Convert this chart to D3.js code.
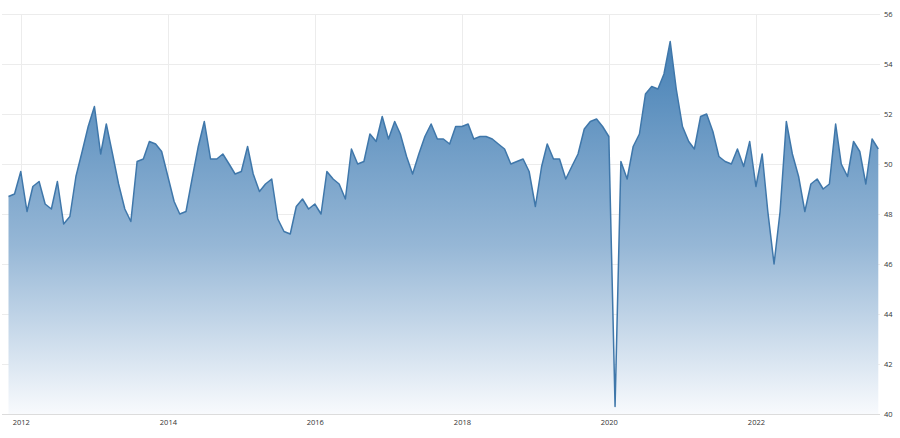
<!DOCTYPE html>
<html>
<head>
<meta charset="utf-8">
<script src="https://cdn.jsdelivr.net/npm/d3@7"></script>
<style>
  body { margin: 0; background: #ffffff; }
  text { font-family: "Open Sans", sans-serif; }
</style>
</head>
<body>
<div id="chart"></div>
<script>
// monthly readings, first one is Nov 2011
var startMonth = new Date(2011, 10, 1);
var pmi2011 = [48.7, 48.8];
var pmi2012 = [49.7, 48.1, 49.1, 49.3, 48.4, 48.2, 49.3, 47.6, 47.9, 49.5, 50.5, 51.5];
var pmi2013 = [52.3, 50.4, 51.6, 50.4, 49.2, 48.2, 47.7, 50.1, 50.2, 50.9, 50.8, 50.5];
var pmi2014 = [49.5, 48.5, 48.0, 48.1, 49.4, 50.7, 51.7, 50.2, 50.2, 50.4, 50.0, 49.6];
var pmi2015 = [49.7, 50.7, 49.6, 48.9, 49.2, 49.4, 47.8, 47.3, 47.2, 48.3, 48.6, 48.2];
var pmi2016 = [48.4, 48.0, 49.7, 49.4, 49.2, 48.6, 50.6, 50.0, 50.1, 51.2, 50.9, 51.9];
var pmi2017 = [51.0, 51.7, 51.2, 50.3, 49.6, 50.4, 51.1, 51.6, 51.0, 51.0, 50.8, 51.5];
var pmi2018 = [51.5, 51.6, 51.0, 51.1, 51.1, 51.0, 50.8, 50.6, 50.0, 50.1, 50.2, 49.7];
var pmi2019 = [48.3, 49.9, 50.8, 50.2, 50.2, 49.4, 49.9, 50.4, 51.4, 51.7, 51.8, 51.5];
var pmi2020 = [51.1, 40.3, 50.1, 49.4, 50.7, 51.2, 52.8, 53.1, 53.0, 53.6, 54.9, 53.0];
var pmi2021 = [51.5, 50.9, 50.6, 51.9, 52.0, 51.3, 50.3, 50.1, 50.0, 50.6, 49.9, 50.9];
var pmi2022 = [49.1, 50.4, 48.1, 46.0, 48.1, 51.7, 50.4, 49.5, 48.1, 49.2, 49.4, 49.0];
var pmi2023 = [49.2, 51.6, 50.0, 49.5, 50.9, 50.5, 49.2, 51.0, 50.6];

var yTicks = [40, 42, 44, 46, 48, 50, 52, 54, 56];
var xTickYears = [2012, 2014, 2016, 2018, 2020, 2022];

var width = 900, height = 438;

var values = [].concat(pmi2011, pmi2012, pmi2013, pmi2014, pmi2015, pmi2016,
  pmi2017, pmi2018, pmi2019, pmi2020, pmi2021, pmi2022, pmi2023);
var data = values.map(function(v, i){
  return {date: d3.timeMonth.offset(startMonth, i), value: v};
});

var x = d3.scaleTime()
  .domain(d3.extent(data, function(d){ return d.date; }))
  .range([8.5, 878.3]);

var y = d3.scaleLinear()
  .domain([40, 56])
  .range([414, 14]);

var svg = d3.select("#chart")
  .append("svg")
  .attr("width", width)
  .attr("height", height);

var grad = svg.append("defs")
  .append("linearGradient")
  .attr("id", "areaFill")
  .attr("gradientUnits", "userSpaceOnUse")
  .attr("x1", 0).attr("x2", 0)
  .attr("y1", y(55)).attr("y2", y(40));
grad.append("stop").attr("offset", "0").attr("stop-color", "#4580b5");
grad.append("stop").attr("offset", "0.55").attr("stop-color", "#96b7d6");
grad.append("stop").attr("offset", "1").attr("stop-color", "#f8fafd");

// horizontal grid
svg.append("g")
  .selectAll("line")
  .data(yTicks)
  .enter()
  .append("line")
  .attr("x1", 2)
  .attr("x2", 880)
  .attr("y1", function(d){ return y(d) + 0.5; })
  .attr("y2", function(d){ return y(d) + 0.5; })
  .attr("stroke", function(d){ return d == 40 ? "#dcdcdc" : "#ececec"; })
  .attr("stroke-width", 1);

// vertical grid
svg.append("g")
  .selectAll("line")
  .data(xTickYears)
  .enter()
  .append("line")
  .attr("x1", function(d){ return Math.round(x(new Date(d, 0, 1))) + 0.5; })
  .attr("x2", function(d){ return Math.round(x(new Date(d, 0, 1))) + 0.5; })
  .attr("y1", y(56))
  .attr("y2", y(40))
  .attr("stroke", "#ececec")
  .attr("stroke-width", 1);

var area = d3.area()
  .x(function(d){ return x(d.date); })
  .y0(y(40))
  .y1(function(d){ return y(d.value); });

var line = d3.line()
  .x(function(d){ return x(d.date); })
  .y(function(d){ return y(d.value); });

svg.append("path")
  .datum(data)
  .attr("d", area)
  .attr("fill", "url(#areaFill)");

svg.append("path")
  .datum(data)
  .attr("d", line)
  .attr("fill", "none")
  .attr("stroke", "#3f77aa")
  .attr("stroke-width", 1.5)
  .attr("stroke-linejoin", "round");

// y axis labels on the right
var yAxis = d3.axisRight(y)
  .tickValues(yTicks)
  .tickSize(0)
  .tickPadding(0)
  .tickFormat(d3.format("d"));

var yG = svg.append("g")
  .attr("transform", "translate(884,0)")
  .call(yAxis);
yG.select(".domain").remove();
yG.selectAll("text")
  .attr("font-size", "7.5px")
  .attr("font-family", "Open Sans, sans-serif")
  .attr("fill", "#333333");

// x axis labels
var xAxis = d3.axisBottom(x)
  .tickValues(xTickYears.map(function(d){ return new Date(d, 0, 1); }))
  .tickSize(0)
  .tickPadding(0)
  .tickFormat(d3.timeFormat("%Y"));

var xG = svg.append("g")
  .attr("transform", "translate(0,420)")
  .call(xAxis);
xG.select(".domain").remove();
xG.selectAll("text")
  .attr("font-size", "7.5px")
  .attr("font-family", "Open Sans, sans-serif")
  .attr("fill", "#333333");
</script>
</body>
</html>
